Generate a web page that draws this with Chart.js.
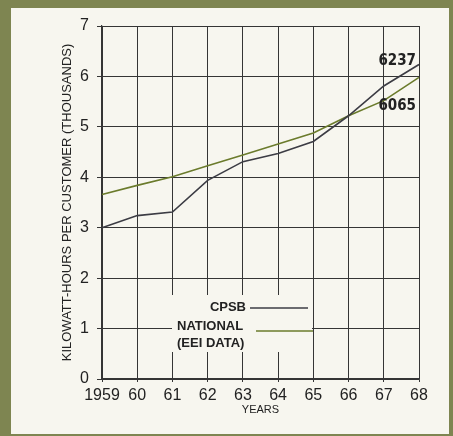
<!DOCTYPE html>
<html>
<head>
<meta charset="utf-8">
<script src="https://cdn.jsdelivr.net/npm/chart.js@4"></script>
<style>
    body { margin: 0; background: #7e8551; }
    #wrap { position: absolute; left: 11px; top: 8px; width: 438px; height: 426px; background: #f7f6ef; }
    canvas { display: block; }
</style>
</head>
<body>
<div id="wrap"><canvas id="kwhChart" width="438" height="426"></canvas></div>
<script>
const years = ['1959', '60', '61', '62', '63', '64', '65', '66', '67', '68'];
const cpsbValues = [3.0, 3.24, 3.31, 3.94, 4.31, 4.47, 4.71, 5.22, 5.81, 6.237];
const nationalValues = [3.66, 3.84, 4.01, 4.23, 4.44, 4.66, 4.88, 5.22, 5.52, 5.98];
const endLabels = ['6237', '6065'];

const inkColor = '#353535';
const textColor = '#222222';
const cpsbColor = '#3c3c44';
const nationalColor = '#6b7b2c';
const panelColor = '#f7f6ef';

// legend box sitting inside the grid, with the grid masked out behind it
const insideLegend = {
    id: 'insideLegend',
    afterDatasetsDraw(chart) {
        const ctx = chart.ctx;
        const x = chart.scales.x;
        const y = chart.scales.y;
        ctx.save();
        ctx.fillStyle = panelColor;
        ctx.fillRect(161, 287, 140, 57);

        ctx.fillStyle = textColor;
        ctx.font = 'bold 13px "Liberation Sans", Arial, sans-serif';
        ctx.textBaseline = 'middle';
        ctx.textAlign = 'right';
        ctx.fillText('CPSB', 235, 299);
        ctx.textAlign = 'left';
        ctx.fillText('NATIONAL', 166, 318);
        ctx.fillText('(EEI DATA)', 166, 335);

        ctx.lineWidth = 1.6;
        ctx.strokeStyle = cpsbColor;
        ctx.beginPath();
        ctx.moveTo(239, 300);
        ctx.lineTo(297, 300);
        ctx.stroke();
        ctx.strokeStyle = nationalColor;
        ctx.beginPath();
        ctx.moveTo(245, 323);
        ctx.lineTo(302, 323);
        ctx.stroke();

        // end values for 1968
        const last = years.length - 1;
        const xr = x.getPixelForValue(last) - 3;
        ctx.font = 'bold 15px "Liberation Sans Narrow", "DejaVu Sans Condensed", sans-serif';
        ctx.textAlign = 'right';
        ctx.fillStyle = textColor;
        ctx.textBaseline = 'bottom';
        ctx.fillText(endLabels[0], xr, y.getPixelForValue(cpsbValues[last]) + 4);
        ctx.textBaseline = 'middle';
        ctx.fillText(endLabels[1], xr, y.getPixelForValue(nationalValues[last]) + 29);
        ctx.restore();
    }
};

const ctx = document.getElementById('kwhChart').getContext('2d');
new Chart(ctx, {
    type: 'line',
    data: {
        labels: years,
        datasets: [
            {
                label: 'CPSB',
                data: cpsbValues,
                borderColor: cpsbColor,
                borderWidth: 1.6,
                pointRadius: 0,
                tension: 0
            },
            {
                label: 'NATIONAL (EEI DATA)',
                data: nationalValues,
                borderColor: nationalColor,
                borderWidth: 1.6,
                pointRadius: 0,
                tension: 0
            }
        ]
    },
    options: {
        responsive: false,
        animation: false,
        layout: { padding: { left: 0, right: 30, top: 18, bottom: 0 } },
        plugins: {
            legend: { display: false },
            tooltip: { enabled: false }
        },
        scales: {
            x: {
                offset: false,
                grid: { color: inkColor, lineWidth: 1, tickLength: 3 },
                border: { color: inkColor, width: 1.2 },
                ticks: {
                    color: textColor,
                    font: { family: '"Liberation Sans", Arial, sans-serif', size: 16 },
                    padding: 4,
                    maxRotation: 0,
                    autoSkip: false
                },
                title: {
                    display: true,
                    text: 'YEARS',
                    color: textColor,
                    font: { family: '"Liberation Sans", Arial, sans-serif', size: 11 },
                    padding: { top: 0, bottom: 17 }
                },
                afterFit: function (scale) { scale.height = 55; }
            },
            y: {
                min: 0,
                max: 7,
                grid: { color: inkColor, lineWidth: 1, tickLength: 5 },
                border: { color: inkColor, width: 1.2 },
                ticks: {
                    stepSize: 1,
                    color: textColor,
                    font: { family: '"Liberation Sans", Arial, sans-serif', size: 16 },
                    padding: 8
                },
                title: {
                    display: true,
                    text: 'KILOWATT-HOURS PER CUSTOMER (THOUSANDS)',
                    color: textColor,
                    font: { family: '"Liberation Sans", Arial, sans-serif', size: 13 },
                    padding: { top: 49, bottom: 0 }
                },
                afterFit: function (scale) { scale.width = 91; }
            }
        }
    },
    plugins: [insideLegend]
});
</script>
</body>
</html>
